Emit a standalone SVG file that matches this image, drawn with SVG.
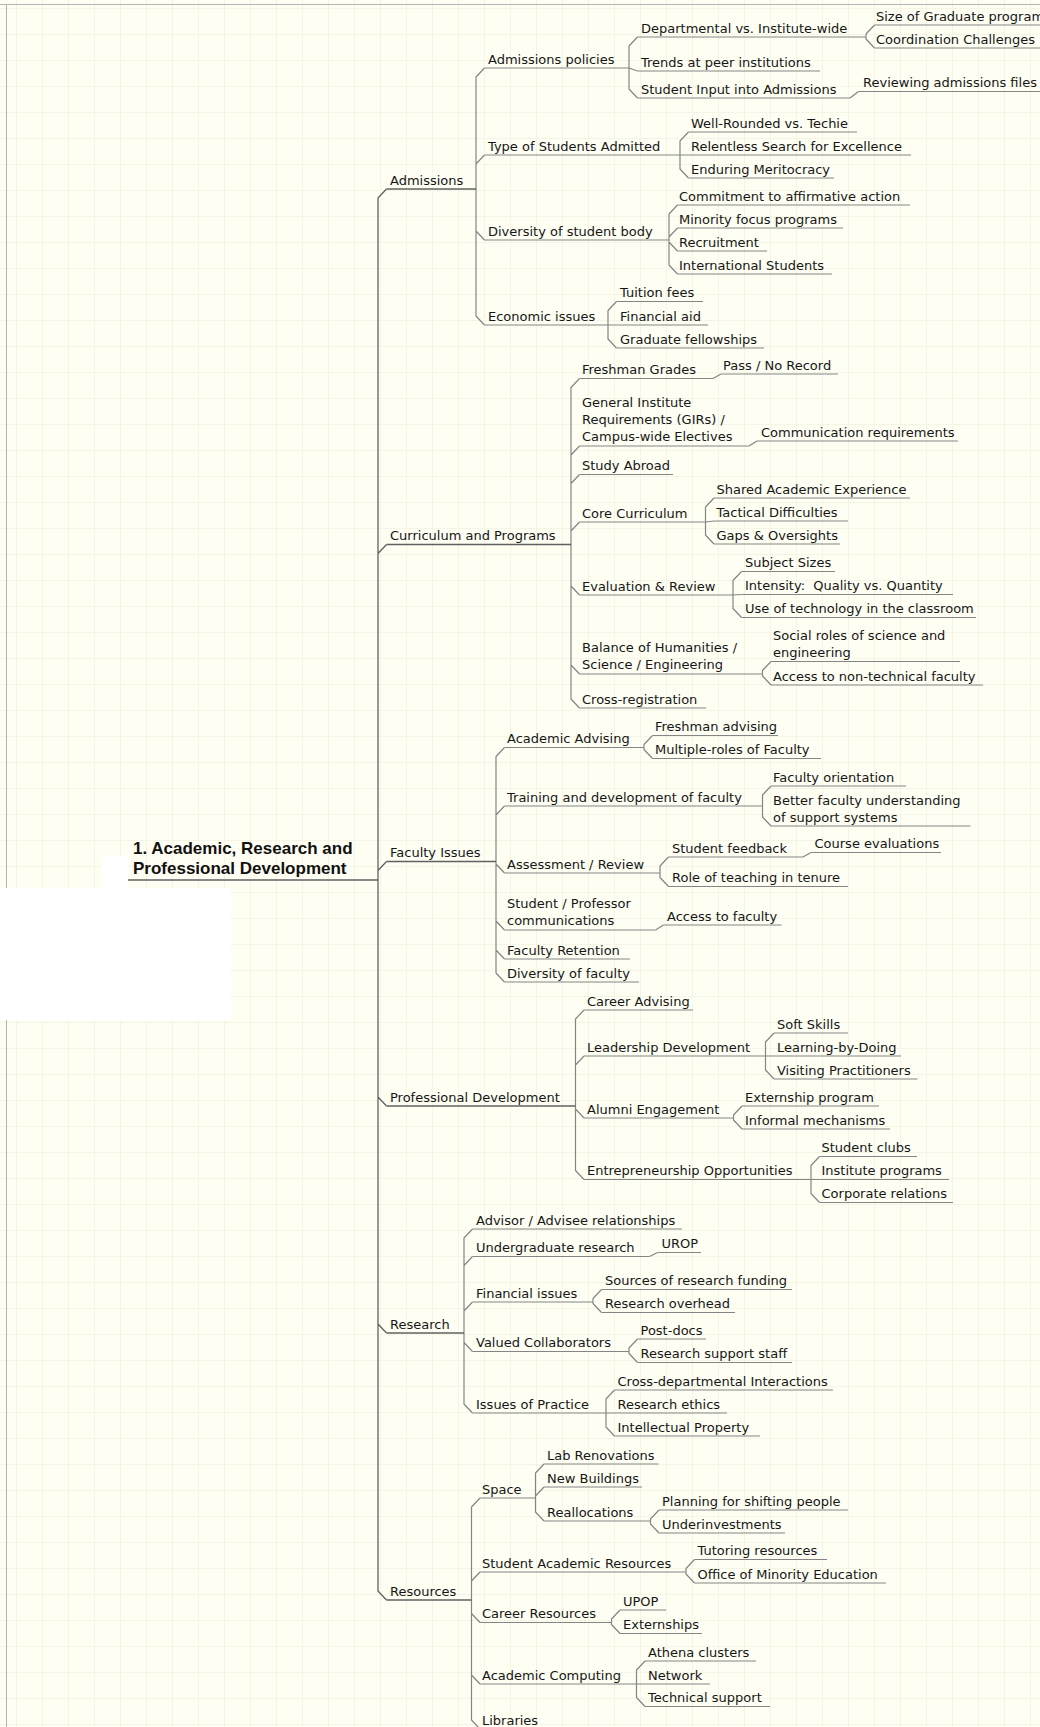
<svg xmlns="http://www.w3.org/2000/svg" width="1040" height="1727" viewBox="0 0 1040 1727">
<defs>
<pattern id="grid" width="26" height="26" patternUnits="userSpaceOnUse" x="16" y="8"><path d="M0 0.5H26M0.5 0V26" fill="none" stroke="#f5f5e5" stroke-width="1"/></pattern>
<style>
.t{font-family:"DejaVu Sans",sans-serif;font-size:13px;fill:#161616}
.r{font-family:"Liberation Sans",Arial,sans-serif;font-size:17px;font-weight:bold;fill:#111}
.u{stroke:#858585;stroke-width:1.2;fill:none}
.um{stroke:#606060;stroke-width:1.3;fill:none}
.c{stroke:#858585;stroke-width:1.2;fill:none;stroke-linejoin:round}
.cm{stroke:#606060;stroke-width:1.3;fill:none;stroke-linejoin:round}
</style>
</defs>
<rect width="1040" height="1727" fill="#fefef3"/>
<rect width="1040" height="1727" fill="url(#grid)"/>
<rect x="0" y="888" width="231" height="132" fill="#ffffff"/>
<rect x="101" y="856" width="27" height="32" fill="#ffffff"/>
<path d="M0 4.5H1040M6.5 4V888M6.5 1020V1727" stroke="#b4b4b4" stroke-width="1" fill="none"/>

<g id="connectors">
<path class="cm" d="M378 880V198L386.5 189M378 880V553.5L386.5 544.5M378 880V870.5L386.5 861.5M378 880V1097L386.5 1106M378 880V1324L386.5 1333M378 880V1591L386.5 1600"/>
<path class="c" d="M476 189V77L484.5 68M476 189V164L484.5 155M476 189V231L484.5 240M476 189V316L484.5 325"/>
<path class="c" d="M629 68V46L637.5 37M629 68L637.5 71M629 68V89L637.5 98"/>
<path class="c" d="M866 37V34L874.5 25M866 37V39L874.5 48"/>
<path class="c" d="M850 98L858.5 91.5"/>
<path class="c" d="M680 155V141L688.5 132M680 155H688.5M680 155V169L688.5 178"/>
<path class="c" d="M669 240V214L677.5 205M669 240V237L677.5 228M669 240V242L677.5 251M669 240V265L677.5 274"/>
<path class="c" d="M608 325V310.5L616.5 301.5M608 325H616.5M608 325V339L616.5 348"/>
<path class="c" d="M571 544.5V387.5L579.5 378.5M571 544.5V455L579.5 446M571 544.5V483.5L579.5 474.5M571 544.5V531L579.5 522M571 544.5V586L579.5 595M571 544.5V665L579.5 674M571 544.5V699L579.5 708"/>
<path class="c" d="M713 378.5L721 374"/>
<path class="c" d="M749 446L757 441"/>
<path class="c" d="M705.5 522V507L714 498M705.5 522L714 521M705.5 522V535L714 544"/>
<path class="c" d="M733 595V580.5L741.5 571.5M733 595L741.5 594.5M733 595V608.5L741.5 617.5"/>
<path class="c" d="M762.5 674V670.5L771 661.5M762.5 674V676L771 685"/>
<path class="c" d="M496 861.5V756.5L504.5 747.5M496 861.5V815L504.5 806M496 861.5V864L504.5 873M496 861.5V921L504.5 930M496 861.5V950L504.5 959M496 861.5V973L504.5 982"/>
<path class="c" d="M644 747.5V744.5L652.5 735.5M644 747.5V749.5L652.5 758.5"/>
<path class="c" d="M762.5 806V795L771 786M762.5 806V817L771 826"/>
<path class="c" d="M660 873V866L668.5 857M660 873V877.5L668.5 886.5"/>
<path class="c" d="M803 857L811 852.5"/>
<path class="c" d="M655.5 930L663.5 925"/>
<path class="c" d="M575.5 1106V1019L584 1010M575.5 1106V1065L584 1056M575.5 1106V1109L584 1118M575.5 1106V1170.5L584 1179.5"/>
<path class="c" d="M765.5 1056V1042L774 1033M765.5 1056H774M765.5 1056V1070L774 1079"/>
<path class="c" d="M733.5 1118V1115L742 1106M733.5 1118V1120L742 1129"/>
<path class="c" d="M811 1179.5V1165.5L819.5 1156.5M811 1179.5H819.5M811 1179.5V1193.5L819.5 1202.5"/>
<path class="c" d="M464 1333V1238L472.5 1229M464 1333V1265.5L472.5 1256.5M464 1333V1311L472.5 1302M464 1333V1342.5L472.5 1351.5M464 1333V1404L472.5 1413"/>
<path class="c" d="M649.5 1256.5L657.5 1252.5"/>
<path class="c" d="M593 1302V1298.5L601.5 1289.5M593 1302V1303.5L601.5 1312.5"/>
<path class="c" d="M629 1351.5V1348L637.5 1339M629 1351.5V1353.5L637.5 1362.5"/>
<path class="c" d="M606 1413V1399L614.5 1390M606 1413H614.5M606 1413V1427L614.5 1436"/>
<path class="c" d="M471.5 1600V1507L480 1498M471.5 1600V1581L480 1572M471.5 1600V1613.5L480 1622.5M471.5 1600V1675L480 1684M471.5 1600V1720L480 1729"/>
<path class="c" d="M535.5 1498V1473L544 1464M535.5 1498V1496L544 1487M535.5 1498V1512L544 1521"/>
<path class="c" d="M650.5 1521V1519L659 1510M650.5 1521V1524L659 1533"/>
<path class="c" d="M686 1572V1568.5L694.5 1559.5M686 1572V1574L694.5 1583"/>
<path class="c" d="M611.5 1622.5V1619L620 1610M611.5 1622.5V1624.5L620 1633.5"/>
<path class="c" d="M636.5 1684V1670L645 1661M636.5 1684H645M636.5 1684V1697.5L645 1706.5"/>
</g>

<g id="root"><text class="r" x="133" y="854">1. Academic, Research and</text><text class="r" x="133" y="874">Professional Development</text><path class="um" d="M128 880H378"/></g>

<g id="admissions"><text class="t" x="390" y="184.5">Admissions</text><path class="um" d="M386.5 189H476"/></g>
<g id="admissions-policies"><text class="t" x="488" y="63.5">Admissions policies</text><path class="u" d="M484.5 68H629"/></g>
<g id="departmental"><text class="t" x="641" y="32.5">Departmental vs. Institute-wide</text><path class="u" d="M637.5 37H866"/></g>
<g id="size-grad"><text class="t" x="876" y="20.5">Size of Graduate program</text><path class="u" d="M874.5 25H1045"/></g>
<g id="coordination"><text class="t" x="876" y="43.5">Coordination Challenges</text><path class="u" d="M874.5 48H1045"/></g>
<g id="trends"><text class="t" x="641" y="66.5">Trends at peer institutions</text><path class="u" d="M637.5 71H820"/></g>
<g id="student-input"><text class="t" x="641" y="93.5">Student Input into Admissions</text><path class="u" d="M637.5 98H850"/></g>
<g id="reviewing"><text class="t" x="863" y="87">Reviewing admissions files</text><path class="u" d="M858.5 91.5H1042"/></g>
<g id="type-students"><text class="t" x="488" y="150.5">Type of Students Admitted</text><path class="u" d="M484.5 155H680"/></g>
<g id="well-rounded"><text class="t" x="691" y="127.5">Well-Rounded vs. Techie</text><path class="u" d="M688.5 132H857"/></g>
<g id="relentless"><text class="t" x="691" y="150.5">Relentless Search for Excellence</text><path class="u" d="M688.5 155H911"/></g>
<g id="enduring"><text class="t" x="691" y="173.5">Enduring Meritocracy</text><path class="u" d="M688.5 178H834"/></g>
<g id="diversity-body"><text class="t" x="488" y="235.5">Diversity of student body</text><path class="u" d="M484.5 240H669"/></g>
<g id="commitment"><text class="t" x="679" y="200.5">Commitment to affirmative action</text><path class="u" d="M677.5 205H910"/></g>
<g id="minority"><text class="t" x="679" y="223.5">Minority focus programs</text><path class="u" d="M677.5 228H843"/></g>
<g id="recruitment"><text class="t" x="679" y="246.5">Recruitment</text><path class="u" d="M677.5 251H767"/></g>
<g id="international"><text class="t" x="679" y="269.5">International Students</text><path class="u" d="M677.5 274H832"/></g>
<g id="economic"><text class="t" x="488" y="320.5">Economic issues</text><path class="u" d="M484.5 325H608"/></g>
<g id="tuition"><text class="t" x="620" y="297">Tuition fees</text><path class="u" d="M616.5 301.5H703"/></g>
<g id="financial-aid"><text class="t" x="620" y="320.5">Financial aid</text><path class="u" d="M616.5 325H708"/></g>
<g id="grad-fellowships"><text class="t" x="620" y="343.5">Graduate fellowships</text><path class="u" d="M616.5 348H764"/></g>

<g id="curriculum"><text class="t" x="390" y="540">Curriculum and Programs</text><path class="um" d="M386.5 544.5H571"/></g>
<g id="freshman-grades"><text class="t" x="582" y="374">Freshman Grades</text><path class="u" d="M579.5 378.5H713"/></g>
<g id="pass-no-record"><text class="t" x="723" y="369.5">Pass / No Record</text><path class="u" d="M721 374H838"/></g>
<g id="girs"><text class="t" x="582" y="407">General Institute</text><text class="t" x="582" y="424">Requirements (GIRs) /</text><text class="t" x="582" y="441">Campus-wide Electives</text><path class="u" d="M579.5 446H749"/></g>
<g id="communication"><text class="t" x="761" y="436.5">Communication requirements</text><path class="u" d="M757 441H958"/></g>
<g id="study-abroad"><text class="t" x="582" y="470">Study Abroad</text><path class="u" d="M579.5 474.5H673"/></g>
<g id="core"><text class="t" x="582" y="517.5">Core Curriculum</text><path class="u" d="M579.5 522H705.5"/></g>
<g id="shared"><text class="t" x="716.5" y="493.5">Shared Academic Experience</text><path class="u" d="M714 498H910"/></g>
<g id="tactical"><text class="t" x="716.5" y="516.5">Tactical Difficulties</text><path class="u" d="M714 521H848"/></g>
<g id="gaps"><text class="t" x="716.5" y="539.5">Gaps &amp; Oversights</text><path class="u" d="M714 544H840"/></g>
<g id="evaluation"><text class="t" x="582" y="590.5">Evaluation &amp; Review</text><path class="u" d="M579.5 595H733"/></g>
<g id="subject-sizes"><text class="t" x="745" y="567">Subject Sizes</text><path class="u" d="M741.5 571.5H835"/></g>
<g id="intensity"><text class="t" x="745" y="590">Intensity:&#160; Quality vs. Quantity</text><path class="u" d="M741.5 594.5H953"/></g>
<g id="technology"><text class="t" x="745" y="613">Use of technology in the classroom</text><path class="u" d="M741.5 617.5H976"/></g>
<g id="balance"><text class="t" x="582" y="651.5">Balance of Humanities /</text><text class="t" x="582" y="668.5">Science / Engineering</text><path class="u" d="M579.5 674H762.5"/></g>
<g id="social-roles"><text class="t" x="773" y="640">Social roles of science and</text><text class="t" x="773" y="657">engineering</text><path class="u" d="M771 661.5H960"/></g>
<g id="non-technical"><text class="t" x="773" y="680.5">Access to non-technical faculty</text><path class="u" d="M771 685H983"/></g>
<g id="cross-registration"><text class="t" x="582" y="703.5">Cross-registration</text><path class="u" d="M579.5 708H706"/></g>

<g id="faculty-issues"><text class="t" x="390" y="857">Faculty Issues</text><path class="um" d="M386.5 861.5H496"/></g>
<g id="academic-advising"><text class="t" x="507" y="743">Academic Advising</text><path class="u" d="M504.5 747.5H644"/></g>
<g id="freshman-advising"><text class="t" x="655" y="731">Freshman advising</text><path class="u" d="M652.5 735.5H778"/></g>
<g id="multiple-roles"><text class="t" x="655" y="754">Multiple-roles of Faculty</text><path class="u" d="M652.5 758.5H821"/></g>
<g id="training"><text class="t" x="507" y="801.5">Training and development of faculty</text><path class="u" d="M504.5 806H762.5"/></g>
<g id="faculty-orientation"><text class="t" x="773" y="781.5">Faculty orientation</text><path class="u" d="M771 786H906"/></g>
<g id="better-understanding"><text class="t" x="773" y="804.5">Better faculty understanding</text><text class="t" x="773" y="821.5">of support systems</text><path class="u" d="M771 826H970.5"/></g>
<g id="assessment"><text class="t" x="507" y="868.5">Assessment / Review</text><path class="u" d="M504.5 873H660"/></g>
<g id="student-feedback"><text class="t" x="672" y="852.5">Student feedback</text><path class="u" d="M668.5 857H803"/></g>
<g id="course-evaluations"><text class="t" x="814.5" y="848">Course evaluations</text><path class="u" d="M811 852.5H941"/></g>
<g id="role-teaching"><text class="t" x="672" y="882">Role of teaching in tenure</text><path class="u" d="M668.5 886.5H848"/></g>
<g id="student-professor"><text class="t" x="507" y="907.5">Student / Professor</text><text class="t" x="507" y="925">communications</text><path class="u" d="M504.5 930H655.5"/></g>
<g id="access-faculty"><text class="t" x="667" y="920.5">Access to faculty</text><path class="u" d="M663.5 925H781.5"/></g>
<g id="faculty-retention"><text class="t" x="507" y="954.5">Faculty Retention</text><path class="u" d="M504.5 959H630"/></g>
<g id="diversity-faculty"><text class="t" x="507" y="977.5">Diversity of faculty</text><path class="u" d="M504.5 982H639"/></g>

<g id="professional-development"><text class="t" x="390" y="1101.5">Professional Development</text><path class="um" d="M386.5 1106H575.5"/></g>
<g id="career-advising"><text class="t" x="587" y="1005.5">Career Advising</text><path class="u" d="M584 1010H693"/></g>
<g id="leadership"><text class="t" x="587" y="1051.5">Leadership Development</text><path class="u" d="M584 1056H765.5"/></g>
<g id="soft-skills"><text class="t" x="777" y="1028.5">Soft Skills</text><path class="u" d="M774 1033H848"/></g>
<g id="learning-by-doing"><text class="t" x="777" y="1051.5">Learning-by-Doing</text><path class="u" d="M774 1056H901"/></g>
<g id="visiting"><text class="t" x="777" y="1074.5">Visiting Practitioners</text><path class="u" d="M774 1079H917.5"/></g>
<g id="alumni"><text class="t" x="587" y="1113.5">Alumni Engagement</text><path class="u" d="M584 1118H733.5"/></g>
<g id="externship-program"><text class="t" x="745" y="1101.5">Externship program</text><path class="u" d="M742 1106H879"/></g>
<g id="informal"><text class="t" x="745" y="1124.5">Informal mechanisms</text><path class="u" d="M742 1129H890"/></g>
<g id="entrepreneurship"><text class="t" x="587" y="1175">Entrepreneurship Opportunities</text><path class="u" d="M584 1179.5H811"/></g>
<g id="student-clubs"><text class="t" x="821.5" y="1152">Student clubs</text><path class="u" d="M819.5 1156.5H917"/></g>
<g id="institute-programs"><text class="t" x="821.5" y="1175">Institute programs</text><path class="u" d="M819.5 1179.5H949"/></g>
<g id="corporate"><text class="t" x="821.5" y="1198">Corporate relations</text><path class="u" d="M819.5 1202.5H953"/></g>

<g id="research"><text class="t" x="390" y="1328.5">Research</text><path class="um" d="M386.5 1333H464"/></g>
<g id="advisor"><text class="t" x="476" y="1224.5">Advisor / Advisee relationships</text><path class="u" d="M472.5 1229H682"/></g>
<g id="undergrad-research"><text class="t" x="476" y="1252">Undergraduate research</text><path class="u" d="M472.5 1256.5H649.5"/></g>
<g id="urop"><text class="t" x="661.5" y="1248">UROP</text><path class="u" d="M657.5 1252.5H701"/></g>
<g id="financial-issues"><text class="t" x="476" y="1297.5">Financial issues</text><path class="u" d="M472.5 1302H593"/></g>
<g id="sources"><text class="t" x="605" y="1285">Sources of research funding</text><path class="u" d="M601.5 1289.5H792"/></g>
<g id="overhead"><text class="t" x="605" y="1308">Research overhead</text><path class="u" d="M601.5 1312.5H735"/></g>
<g id="collaborators"><text class="t" x="476" y="1347">Valued Collaborators</text><path class="u" d="M472.5 1351.5H629"/></g>
<g id="post-docs"><text class="t" x="640.5" y="1334.5">Post-docs</text><path class="u" d="M637.5 1339H706"/></g>
<g id="support-staff"><text class="t" x="640.5" y="1358">Research support staff</text><path class="u" d="M637.5 1362.5H792"/></g>
<g id="issues-practice"><text class="t" x="476" y="1408.5">Issues of Practice</text><path class="u" d="M472.5 1413H606"/></g>
<g id="cross-departmental"><text class="t" x="617.5" y="1385.5">Cross-departmental Interactions</text><path class="u" d="M614.5 1390H833"/></g>
<g id="ethics"><text class="t" x="617.5" y="1408.5">Research ethics</text><path class="u" d="M614.5 1413H727"/></g>
<g id="ip"><text class="t" x="617.5" y="1431.5">Intellectual Property</text><path class="u" d="M614.5 1436H760"/></g>

<g id="resources"><text class="t" x="390" y="1595.5">Resources</text><path class="um" d="M386.5 1600H471.5"/></g>
<g id="space"><text class="t" x="482" y="1493.5">Space</text><path class="u" d="M480 1498H535.5"/></g>
<g id="lab-renovations"><text class="t" x="547" y="1459.5">Lab Renovations</text><path class="u" d="M544 1464H658.5"/></g>
<g id="new-buildings"><text class="t" x="547" y="1482.5">New Buildings</text><path class="u" d="M544 1487H642"/></g>
<g id="reallocations"><text class="t" x="547" y="1516.5">Reallocations</text><path class="u" d="M544 1521H650.5"/></g>
<g id="planning"><text class="t" x="662" y="1505.5">Planning for shifting people</text><path class="u" d="M659 1510H848"/></g>
<g id="underinvestments"><text class="t" x="662" y="1528.5">Underinvestments</text><path class="u" d="M659 1533H785"/></g>
<g id="student-academic"><text class="t" x="482" y="1567.5">Student Academic Resources</text><path class="u" d="M480 1572H686"/></g>
<g id="tutoring"><text class="t" x="697.5" y="1555">Tutoring resources</text><path class="u" d="M694.5 1559.5H827"/></g>
<g id="ome"><text class="t" x="697.5" y="1578.5">Office of Minority Education</text><path class="u" d="M694.5 1583H886"/></g>
<g id="career-resources"><text class="t" x="482" y="1618">Career Resources</text><path class="u" d="M480 1622.5H611.5"/></g>
<g id="upop"><text class="t" x="623" y="1605.5">UPOP</text><path class="u" d="M620 1610H666"/></g>
<g id="externships"><text class="t" x="623" y="1629">Externships</text><path class="u" d="M620 1633.5H702"/></g>
<g id="academic-computing"><text class="t" x="482" y="1679.5">Academic Computing</text><path class="u" d="M480 1684H636.5"/></g>
<g id="athena"><text class="t" x="648" y="1656.5">Athena clusters</text><path class="u" d="M645 1661H756"/></g>
<g id="network"><text class="t" x="648" y="1679.5">Network</text><path class="u" d="M645 1684H710"/></g>
<g id="technical-support"><text class="t" x="648" y="1702">Technical support</text><path class="u" d="M645 1706.5H770"/></g>
<g id="libraries"><text class="t" x="482" y="1724.5">Libraries</text><path class="u" d="M480 1729H547"/></g>
</svg>
